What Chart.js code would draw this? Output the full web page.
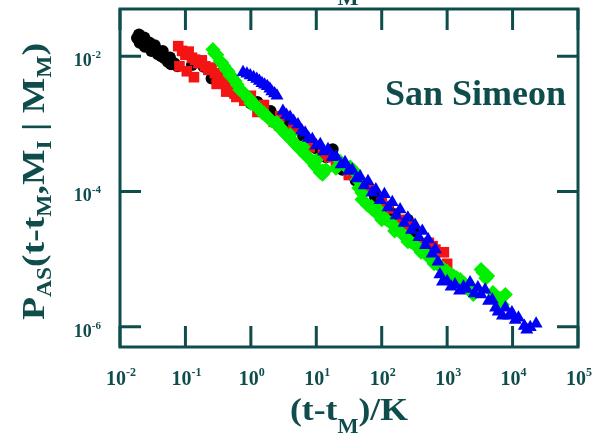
<!DOCTYPE html>
<html lang="en">
<head>
<meta charset="UTF-8">
<title>San Simeon</title>
<script src="https://cdn.jsdelivr.net/npm/chart.js@4.4.0/dist/chart.umd.min.js"></script>
<style>
  html, body { margin: 0; padding: 0; background: #fff; }
  #wrap { width: 595px; height: 435px; }
</style>
</head>
<body>
<div id="wrap"><canvas id="chart"></canvas></div>
<script>
// decades shown on each axis
const xTicks = [1e-2, 1e-1, 1e0, 1e1, 1e2, 1e3, 1e4, 1e5];
const yTicks = [1e-6, 1e-4, 1e-2];

// four magnitude bins, rescaled time vs. aftershock rate
const blackX = [0.0182, 0.020, 0.0219, 0.024, 0.0269, 0.0302, 0.0339, 0.038, 0.0427, 0.0479, 0.0537, 0.0603, 0.0676, 0.0759,
  0.0195, 0.0235, 0.028, 0.034, 0.045, 0.058,
  0.126, 0.19, 0.251, 0.50, 1.0, 2.0, 4.0, 7.9, 17.8, 31.6, 63, 126, 251,
  0.631, 1.26, 2.0, 3.55, 6.3, 10, 14.1, 25, 40, 79, 158, 316];
const blackY = [1.86e-2, 1.58e-2, 1.70e-2, 1.38e-2, 1.45e-2, 1.20e-2, 1.26e-2, 1.07e-2, 1.0e-2, 9.3e-3, 8.3e-3, 7.6e-3, 7.9e-3, 7.1e-3,
  2.1e-2, 1.9e-2, 1.6e-2, 1.45e-2, 1.2e-2, 9.6e-3,
  7.4e-3, 7.0e-3, 4.7e-3, 3.0e-3, 2.0e-3, 1.2e-3, 7.6e-4, 5.0e-4, 4.2e-4, 2.0e-4, 1.05e-4, 5.6e-5, 3.8e-5,
  3.5e-3, 2.1e-3, 1.55e-3, 1.05e-3, 6.6e-4, 4.3e-4, 3.2e-4, 2.1e-4, 1.45e-4, 8.3e-5, 4.6e-5, 2.5e-5];

const redX = [0.0776, 0.081, 0.0891, 0.100, 0.105, 0.112, 0.126, 0.135, 0.141, 0.158, 0.178, 0.200, 0.224, 0.251, 0.282, 0.316,
  0.355, 0.398, 0.447, 0.562, 0.794, 1.26, 2.24, 3.98, 7.94, 15.8, 31.6, 63.1, 126, 251, 417, 525, 661, 891,
  0.30, 0.42, 0.60, 2.7, 48, 600,
  1.0, 1.58, 2.82, 4.47, 7.9, 12.6, 20, 31.6, 50, 100, 200, 500, 1000];
const redY = [1.41e-2, 7.1e-3, 1.20e-2, 1.05e-2, 6.0e-3, 1.17e-2, 9.5e-3, 4.9e-3, 8.9e-3, 7.9e-3, 8.7e-3, 7.1e-3, 6.3e-3, 6.8e-3, 5.6e-3, 5.0e-3,
  4.5e-3, 4.0e-3, 3.5e-3, 2.8e-3, 2.2e-3, 1.5e-3, 1.07e-3, 7.6e-4, 4.5e-4, 3.2e-4, 1.8e-4, 1.05e-4, 5.6e-5, 3.2e-5, 1.6e-5, 1.74e-5, 1.38e-5, 1.26e-5,
  3.9e-3, 3.0e-3, 2.5e-3, 9.5e-4, 1.3e-4, 1.55e-5,
  2.6e-3, 1.9e-3, 1.3e-3, 8.5e-4, 5.2e-4, 3.5e-4, 2.5e-4, 1.75e-4, 1.2e-4, 6.8e-5, 3.8e-5, 1.66e-5, 8.5e-6];

const greenX = [0.263, 0.302, 0.339, 0.389, 0.447, 0.513, 0.575, 0.676, 0.813, 0.977, 1.17, 1.38, 1.66, 1.95, 2.34,
  2.82, 3.31, 3.98, 4.79, 5.62, 6.76, 8.13, 9.55, 11.5, 14.1, 20.0, 26.3, 33.1, 38.0, 44.7,
  60.3, 79.4, 100, 120, 158, 200, 245, 316, 389, 501, 631, 776, 1000, 1259, 1585,
  1995, 2512, 3548, 4169, 5012, 6457, 7762,
  0.28, 0.36, 0.42, 0.48, 0.62, 0.74, 0.90, 1.08, 1.28, 1.50, 1.80, 2.10, 2.60, 3.00, 3.60,
  4.30, 5.20, 6.20, 7.40, 8.80, 10.5, 12.5, 23.0, 30.0, 42.0, 50.0, 70.0, 90.0, 110, 140,
  180, 225, 280, 350, 450, 560, 700, 880, 1120, 1400, 1800, 2250, 2800, 3300, 3900, 5500, 7000,
  1.0, 1.58, 2.51, 3.98, 6.3, 10, 12.6, 50, 71, 100, 158, 251, 398, 631, 1000];
const greenY = [1.26e-2, 1.05e-2, 8.5e-3, 7.2e-3, 6.0e-3, 5.0e-3, 4.3e-3, 3.2e-3, 2.75e-3, 2.3e-3, 1.9e-3, 1.62e-3, 1.38e-3, 1.17e-3, 1.02e-3,
  8.9e-4, 7.2e-4, 6.0e-4, 5.0e-4, 4.2e-4, 3.5e-4, 3.0e-4, 2.4e-4, 1.9e-4, 2.1e-4, 2.2e-4, 2.5e-4, 2.3e-4, 2.0e-4, 1.12e-4,
  6.3e-5, 5.0e-5, 4.3e-5, 3.8e-5, 3.0e-5, 2.4e-5, 2.0e-5, 1.66e-5, 1.38e-5, 1.12e-5, 9.1e-6, 7.9e-6, 6.6e-6, 5.6e-6, 5.0e-6,
  3.8e-6, 3.0e-6, 6.3e-6, 5.6e-6, 3.2e-6, 2.6e-6, 3.0e-6,
  1.1e-2, 8.0e-3, 6.4e-3, 5.2e-3, 3.8e-3, 3.0e-3, 2.4e-3, 2.0e-3, 1.7e-3, 1.45e-3, 1.25e-3, 1.1e-3, 9.5e-4, 8.0e-4, 6.8e-4,
  5.6e-4, 4.6e-4, 3.9e-4, 3.3e-4, 2.7e-4, 2.2e-4, 1.8e-4, 2.8e-4, 2.2e-4, 1.5e-4, 9.5e-5, 6.0e-5, 5.4e-5, 4.0e-5, 3.4e-5,
  2.7e-5, 2.2e-5, 1.8e-5, 1.5e-5, 1.25e-5, 1.0e-5, 8.5e-6, 7.2e-6, 6.0e-6, 5.3e-6, 4.4e-6, 3.5e-6, 3.3e-6, 7.0e-6, 5.2e-6, 2.9e-6, 2.1e-6,
  2.0e-3, 1.45e-3, 1.05e-3, 6.9e-4, 4.6e-4, 2.9e-4, 2.0e-4, 7.6e-5, 5.5e-5, 3.8e-5, 2.6e-5, 1.8e-5, 1.26e-5, 8.5e-6, 6.0e-6];

const blueX = [0.759, 0.977, 1.23, 1.48, 1.78, 2.09, 2.51, 3.09, 3.98, 5.25, 6.76, 8.71, 11.5, 15.1, 20.0,
  27.5, 35.5, 46.8, 61.7, 81.3, 110, 145, 191, 251, 324, 417, 513, 661, 724, 776,
  1000, 1318, 1778, 2239, 2951, 3802, 4898, 6026, 7762, 9772, 12300, 15140, 18620, 22910,
  0.87, 1.10, 1.35, 1.62, 1.95, 2.30, 3.50, 4.50, 6.00, 7.60, 10.0, 13.0, 17.5, 24.0, 31.0,
  41.0, 54.0, 71.0, 95.0, 125, 166, 220, 285, 370, 465, 590, 850, 1150, 1550, 2000,
  2600, 3300, 4300, 5500, 7000, 8800, 11000, 16500];
const blueY = [5.8e-3, 5.2e-3, 4.6e-3, 4.0e-3, 3.6e-3, 3.0e-3, 2.6e-3, 1.55e-3, 1.26e-3, 9.8e-4, 7.4e-4, 5.9e-4, 5.0e-4, 4.2e-4, 3.3e-4,
  2.7e-4, 2.1e-4, 1.66e-4, 1.41e-4, 1.07e-4, 9.1e-5, 6.9e-5, 5.4e-5, 4.1e-5, 3.2e-5, 2.6e-5, 1.95e-5, 1.38e-5, 9.1e-6, 5.9e-6,
  4.7e-6, 4.2e-6, 3.9e-6, 4.5e-6, 3.8e-6, 3.5e-6, 2.5e-6, 1.66e-6, 1.9e-6, 1.62e-6, 1.35e-6, 1.02e-6, 9.8e-7, 1.1e-6,
  5.5e-3, 4.9e-3, 4.3e-3, 3.8e-3, 3.3e-3, 2.8e-3, 1.35e-3, 1.1e-3, 8.0e-4, 6.2e-4, 4.8e-4, 3.9e-4, 3.2e-4, 2.5e-4, 2.0e-4,
  1.55e-4, 1.22e-4, 9.6e-5, 7.4e-5, 5.8e-5, 4.4e-5, 3.4e-5, 2.7e-5, 2.1e-5, 1.6e-5, 1.2e-5, 4.6e-6, 3.9e-6, 3.4e-6, 3.6e-6,
  3.1e-6, 3.0e-6, 2.4e-6, 1.9e-6, 1.45e-6, 1.45e-6, 1.25e-6, 9.0e-7];

const ink = '#0f4d4d';
const serif = '"Liberation Serif", "Times New Roman", serif';

function pts(xs, ys) {
  return xs.map((x, i) => ({ x: x, y: ys[i] }));
}

function richWidth(ctx, parts) {
  let w = 0;
  parts.forEach(p => { ctx.font = 'bold ' + p[1] + 'px ' + serif; w += ctx.measureText(p[0]).width; });
  return w;
}

// draws a run of [text, size, dy] pieces, optionally squeezed to a width
function drawRich(ctx, parts, x, y, width) {
  const w = richWidth(ctx, parts);
  const k = width ? width / w : 1;
  ctx.save();
  ctx.translate(x, y);
  ctx.scale(k, 1);
  let cx = 0;
  parts.forEach(p => {
    ctx.font = 'bold ' + p[1] + 'px ' + serif;
    ctx.fillText(p[0], cx, p[2]);
    cx += ctx.measureText(p[0]).width;
  });
  ctx.restore();
}

const xTitle = [['(t-t', 32, 0], ['M', 20, 13], [')/K', 32, 0]];
const yTitle = [['P', 32, 0], ['AS', 20, 7], ['(t-t', 32, 0], ['M', 20, 7], [',', 32, 0], ['M', 32, 0], ['I', 20, 7],
  [' | ', 32, 0], ['M', 32, 0], ['M', 20, 7], [')', 32, 0]];

const framePlugin = {
  id: 'frame',
  afterDraw(chart) {
    const ctx = chart.ctx;
    const a = chart.chartArea;
    const sx = chart.scales.x, sy = chart.scales.y;
    ctx.save();
    ctx.strokeStyle = ink;
    ctx.fillStyle = ink;
    ctx.lineWidth = 3;
    ctx.strokeRect(a.left, a.top, a.right - a.left, a.bottom - a.top);

    // inward tick marks on all four sides
    ctx.beginPath();
    xTicks.forEach(v => {
      const px = sx.getPixelForValue(v);
      ctx.moveTo(px, a.bottom); ctx.lineTo(px, a.bottom - 21);
      ctx.moveTo(px, a.top); ctx.lineTo(px, a.top + 21);
    });
    yTicks.forEach(v => {
      const py = sy.getPixelForValue(v);
      ctx.moveTo(a.left, py); ctx.lineTo(a.left + 21, py);
      ctx.moveTo(a.right, py); ctx.lineTo(a.right - 21, py);
    });
    ctx.stroke();

    // tick labels as 10 with a raised exponent
    ctx.textBaseline = 'alphabetic';
    xTicks.forEach(v => {
      const e = Math.round(Math.log10(v));
      const parts = [['10', 20, 0], [String(e), 12, -9]];
      const w = richWidth(ctx, parts);
      drawRich(ctx, parts, sx.getPixelForValue(v) - w / 2 + 1, 385);
    });
    yTicks.forEach(v => {
      const e = Math.round(Math.log10(v));
      const parts = [['10', 18, 0], [String(e), 11, -8]];
      const w = richWidth(ctx, parts);
      drawRich(ctx, parts, 101 - w, sy.getPixelForValue(v) + 10);
    });

    // axis titles (the upper one belongs to the panel above)
    drawRich(ctx, xTitle, 290, 420, 118);
    drawRich(ctx, xTitle, 290, -8, 118);
    ctx.save();
    ctx.translate(44, 320);
    ctx.rotate(-Math.PI / 2);
    drawRich(ctx, yTitle, 0, 0, 277);
    ctx.restore();

    // region name
    ctx.font = 'bold 36px ' + serif;
    ctx.fillText('San Simeon', 385, 105, 183);
    ctx.restore();
  }
};

new Chart(document.getElementById('chart'), {
  type: 'scatter',
  data: {
    datasets: [
      { data: pts(blueX, blueY), pointStyle: 'triangle', pointRadius: 7.5, backgroundColor: '#0000f5', borderColor: '#0000f5', borderWidth: 0, order: 0 },
      { data: pts(greenX, greenY), pointStyle: 'rectRot', pointRadius: 7.5, backgroundColor: '#00f000', borderColor: '#00f000', borderWidth: 0, order: 1 },
      { data: pts(redX, redY), pointStyle: 'rect', pointRadius: 7.5, backgroundColor: '#f51414', borderColor: '#f51414', borderWidth: 0, order: 2 },
      { data: pts(blackX, blackY), pointStyle: 'circle', pointRadius: 6, backgroundColor: '#000', borderColor: '#000', borderWidth: 0, order: 3 }
    ]
  },
  options: {
    responsive: true,
    maintainAspectRatio: false,
    animation: false,
    layout: { padding: { top: 9, right: 17, left: 0, bottom: 0 } },
    plugins: { legend: { display: false }, tooltip: { enabled: false } },
    scales: {
      x: {
        type: 'logarithmic', min: 1e-2, max: 1e5,
        grid: { display: false }, border: { display: false },
        ticks: { display: false },
        afterBuildTicks: s => { s.ticks = xTicks.map(v => ({ value: v })); },
        afterFit: s => { s.height = 88; }
      },
      y: {
        type: 'logarithmic', min: 5e-7, max: 5e-2,
        grid: { display: false }, border: { display: false },
        ticks: { display: false },
        afterBuildTicks: s => { s.ticks = yTicks.map(v => ({ value: v })); },
        afterFit: s => { s.width = 120; }
      }
    }
  },
  plugins: [framePlugin]
});
</script>
</body>
</html>
